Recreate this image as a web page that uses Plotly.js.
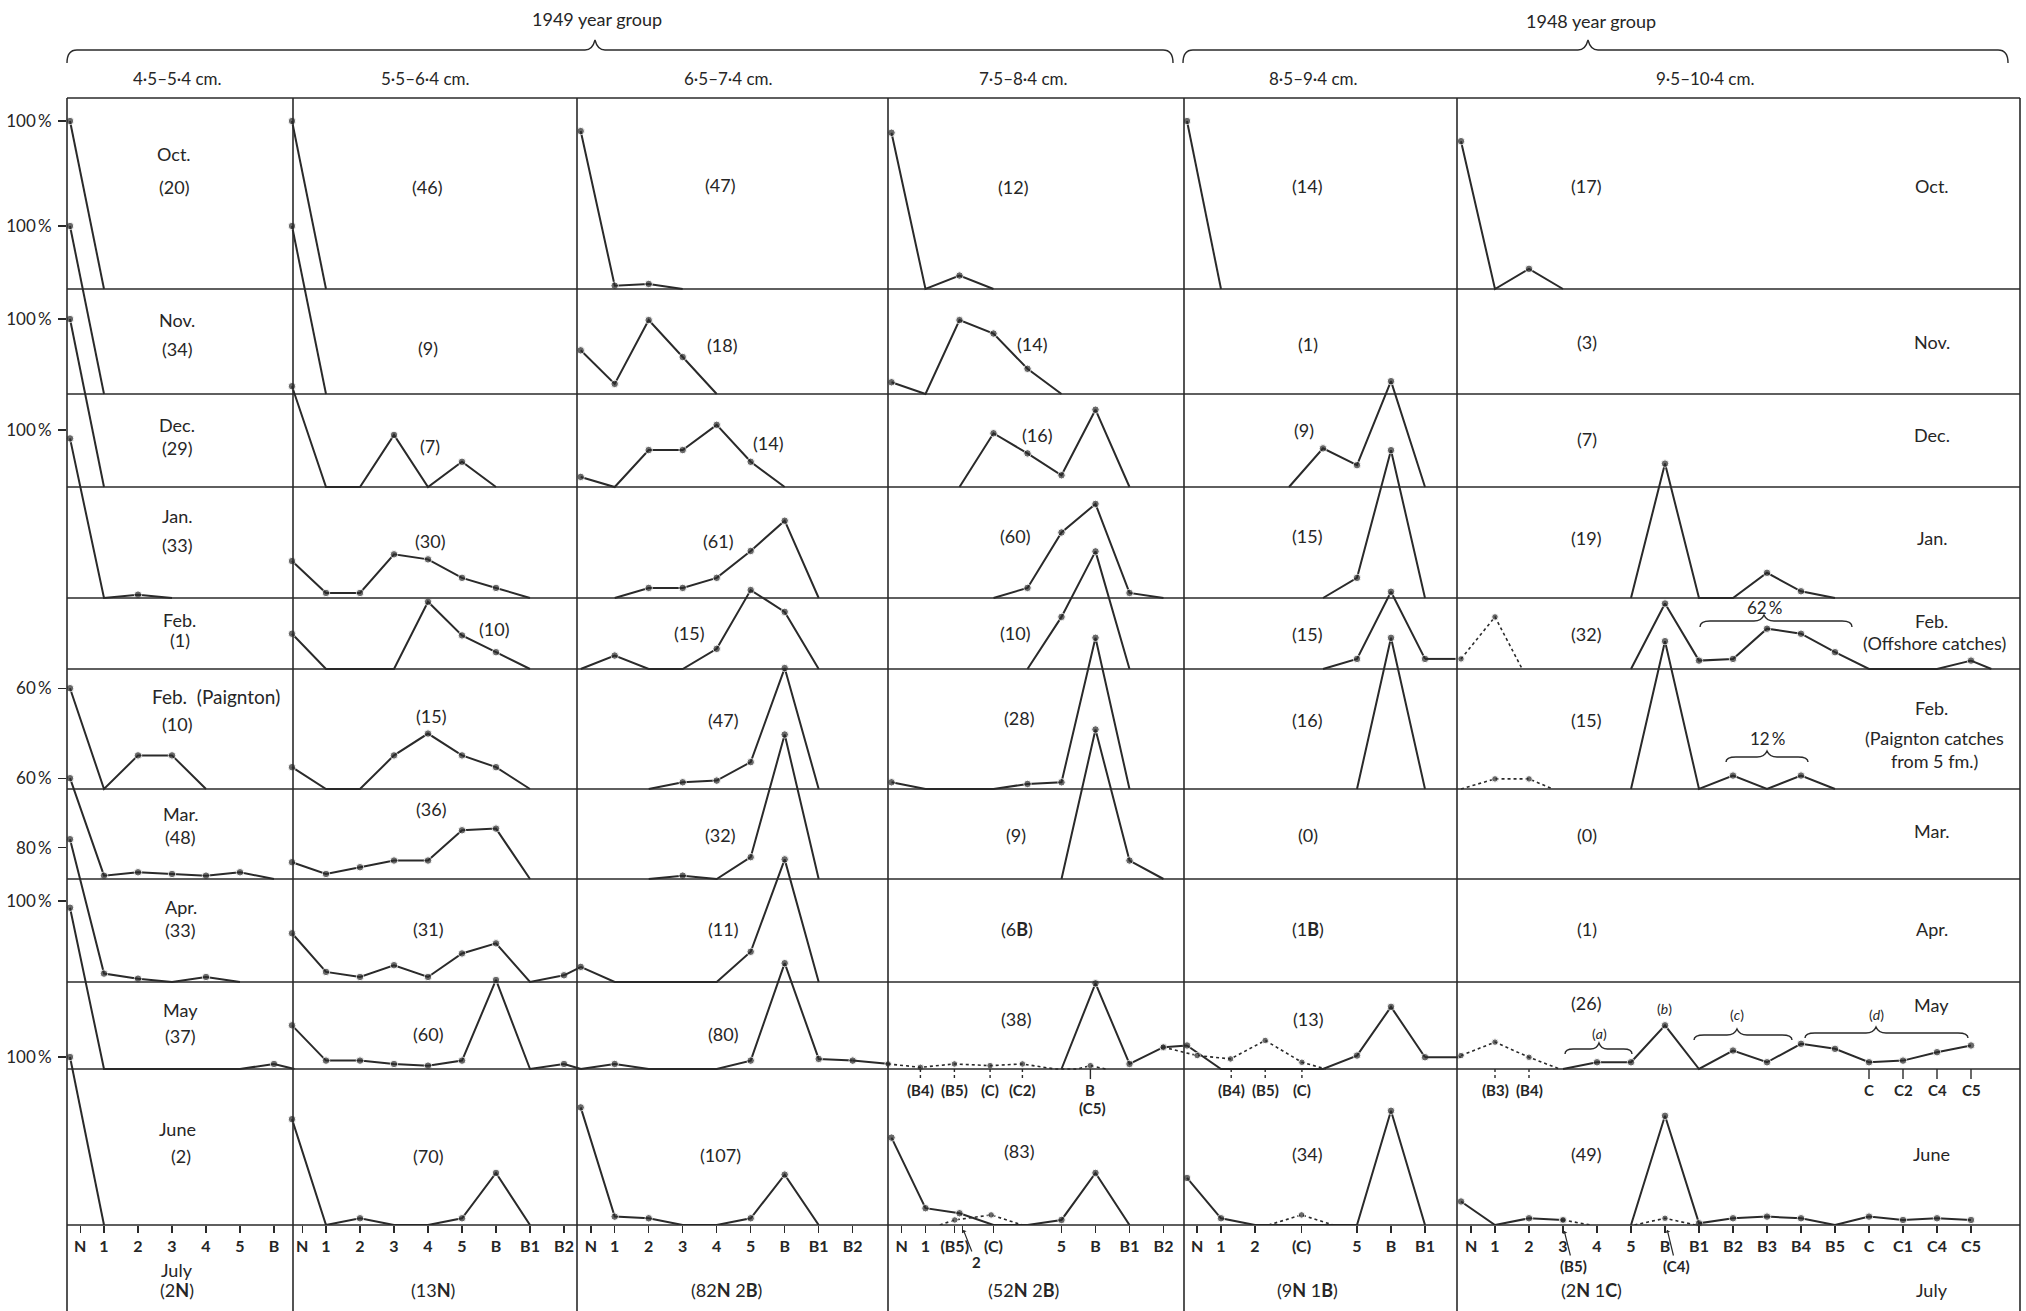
<!DOCTYPE html>
<html><head><meta charset="utf-8">
<script src="https://cdn.plot.ly/plotly-3.0.1.min.js"></script>
<style>html,body{margin:0;padding:0;background:#fff}#chart{width:2026px;height:1311px}</style>
</head><body><div id="chart"></div>
<script>
// ================= DATA =================
const months = ['Oct.','Nov.','Dec.','Jan.','Feb.','Feb.  (Paignton)','Mar.','Apr.','May','June'];
const sizeClasses = ['4·5–5·4 cm.','5·5–6·4 cm.','6·5–7·4 cm.','7·5–8·4 cm.','8·5–9·4 cm.','9·5–10·4 cm.'];
const yearGroups = ['1949 year group','1948 year group'];

// developmental stages (x categories) for each size class
const stages1 = ['N','1','2','3','4','5','B'];
const stages2 = ['N','1','2','3','4','5','B','B1','B2'];
const stages5 = ['N','1','2','3','4','5','B','B1'];
const stages6 = ['N','1','2','3','4','5','B','B1','B2','B3','B4','B5','C','C1','C4','C5'];

// bottom tick labels of columns 4 and 5
const tickText4 = ['N','1','(B5)','','(C)','5','B','B1','B2'];
const tickAt4   = [0.3,1,1.86,2.08,3,5,6,7,8];
const tickText5 = ['N','1','2','(C)','5','B','B1'];
const tickAt5   = [0.3,1,2,3.37,5,6,7];

// % of sample at each stage, rows Oct..June (null = not plotted)
const col1 = [[100,0],[100,0],[100,0],[95,0,2,0],[],[60,0,20,20,0],[60,2,4,3,2,4,0],[85,5,2,0,3,0],[96,0,0,0,0,0,3],[100,0]];
const col2 = [[100,0],[100,0],[60,0,0,31,0,15,0],[22,3,3,26,23,12,6,0],[21,0,0,0,40,20,10,0],[13,0,0,20,33,20,13,0],[10,3,7,11,11,29,30,0],[29,6,3,10,3,17,23,0,4],[26,5,5,3,2,5,53,0,3],[63,0,4,0,0,4,31,0]];
const col3 = [[94,2,3,0],[26,6,44,22,0],[6,0,22,22,37,15,0],[null,0,6,6,12,28,46,0],[0,8,0,0,12,47,34,0],[null,null,0,4,5,16,72,0],[null,null,0,2,0,13,86,0],[9,0,0,0,0,18,73,0],[0,3,0,0,0,5,63,6,5],[70,5,4,0,0,4,30,0]];
const col4 = [[93,0,8,0],[7,0,44,36,15,0],[null,null,0,32,20,7,46,0],[null,null,null,0,6,39,56,3,0],[null,null,null,null,0,31,70,0],[4,0,0,0,3,4,90,0],[null,null,null,null,null,0,89,11,0],[],[null,null,null,null,null,0,51,3,13],[52,10,7,0,0,3,31,0]];
const col5 = [[100,0],[],[null,null,null,0,23,13,63,0],[null,null,null,null,0,12,88,0],[null,null,null,null,0,6,46,6],[null,null,null,null,null,0,90,0],[],[],[14,0,0,0,0,8,37,7],[28,4,0,0,0,0,68,0]];
const col6 = [[88,0,12,0],[],[],[null,null,null,null,null,0,80,0,0,15,4,0],[null,null,null,null,null,0,39,5,6,24,21,10,0,0,0,5],[null,null,null,null,null,0,88,0,8,0,8,0],[],[],[null,null,null,0,4,4,26,0,11,4,15,12,4,5,10,14],[14,0,4,3,null,0,65,1,4,5,4,0,5,3,4,3]];

// solid line continuations between stage positions (col, row, stage position, %)
const tails = [
  {col:1,row:8,x:[6,6.6],y:[3,0]},
  {col:2,row:7,x:[8,8.5],y:[4,9]},
  {col:2,row:8,x:[8,8.5],y:[3,0]},
  {col:3,row:8,x:[8,9.1],y:[5,3]},
  {col:4,row:8,x:[8,8.7],y:[13,14]},
  {col:5,row:4,x:[7,7.9],y:[6,6]},
  {col:5,row:8,x:[7,8.05],y:[7,7]},
  {col:6,row:4,x:[15,15.6],y:[5,0]}
];
// dotted series (bracketed stages)
const dotted = [
  {col:4,row:8,x:[-0.1,0.85,1.85,2.9,3.85,4.8,5.45,5.85,6.3],y:[3,1,3,2,3,0,0,2,0]},
  {col:4,row:9,x:[1.42,1.86,2.93,3.85],y:[0,3,6,0]},
  {col:5,row:8,x:[-0.7,0.3,1.28,2.3,3.38,4.09],y:[13,8,6,17,4,0]},
  {col:5,row:9,x:[2.4,3.37,4.3],y:[0,6,0]},
  {col:6,row:4,x:[0,1,1.8],y:[6,31,0]},
  {col:6,row:5,x:[0,1,2,2.7],y:[0,6,6,0]},
  {col:6,row:8,x:[0,1,2,2.9],y:[8,16,7,0]},
  {col:6,row:9,x:[3,3.8,null,5.1,6,6.9],y:[3,0,null,0,4,0]}
];

// sample sizes
const counts1 = ['(20)','(34)','(29)','(33)','(1)','(10)','(48)','(33)','(37)','(2)'];
const counts2 = ['(46)','(9)','(7)','(30)','(10)','(15)','(36)','(31)','(60)','(70)'];
const counts3 = ['(47)','(18)','(14)','(61)','(15)','(47)','(32)','(11)','(80)','(107)'];
const counts4 = ['(12)','(14)','(16)','(60)','(10)','(28)','(9)','(6<b>B</b>)','(38)','(83)'];
const counts5 = ['(14)','(1)','(9)','(15)','(15)','(16)','(0)','(1<b>B</b>)','(13)','(34)'];
const counts6 = ['(17)','(3)','(7)','(19)','(32)','(15)','(0)','(1)','(26)','(49)'];
const julyCounts = ['(2<b>N</b>)','(13<b>N</b>)','(82<b>N</b> 2<b>B</b>)','(52<b>N</b> 2<b>B</b>)','(9<b>N</b> 1<b>B</b>)','(2<b>N</b> 1<b>C</b>)'];
const rowTick = [100,100,100,100,null,60,60,80,100,100];

// ================= LAYOUT GEOMETRY =================
const F = 2026/1568;
const L=67, R=2020, T=98, Bm=1225, W=R-L, H=Bm-T, P=168;
const rowBase = [289,394,487,598,669,789,879,982,1069,1225];
const colEdge = [67,293,577,888,1184,1457,2020];
const colN = [70,292,580.7,891.5,1187,1461];
const step = 34;
const FONT = 'Lato, "Open Sans", sans-serif';
const TXT = '#262626', LC = '#2a2a2a';
const px = x => (x-L)/W, py = y => (Bm-y)/H;

const cols = [col1,col2,col3,col4,col5,col6];
const stages = [stages1,stages2,stages2,stages2,stages5,stages6];
const xa = c => c===1 ? 'x' : 'x'+c;
const ya = r => r===0 ? 'y' : 'y'+(r+1);

const traces = [];
cols.forEach((col,ci)=>{
  col.forEach((vals,r)=>{
    if(!vals.length) return;
    traces.push({x:vals.map((_,i)=>i), y:vals, xaxis:xa(ci+1), yaxis:ya(r), type:'scatter', mode:'lines+markers',
      line:{color:LC,width:2}, marker:{color:LC,size:vals.map(v=>v>0?7.5:0)}, cliponaxis:false, hoverinfo:'skip', showlegend:false});
  });
});
tails.forEach(t=>traces.push({x:t.x,y:t.y,xaxis:xa(t.col),yaxis:ya(t.row),type:'scatter',mode:'lines',line:{color:LC,width:2},hoverinfo:'skip',showlegend:false}));
dotted.forEach(t=>traces.push({x:t.x,y:t.y,xaxis:xa(t.col),yaxis:ya(t.row),type:'scatter',mode:'lines+markers',connectgaps:false,
  line:{color:LC,width:1.6,dash:'dot'},marker:{color:LC,size:t.y.map(v=>v>0?6.5:0)},cliponaxis:false,hoverinfo:'skip',showlegend:false}));

const layout = {width:2026,height:1311,autosize:false,margin:{l:L,r:2026-R,t:T,b:1311-Bm},
  paper_bgcolor:'#ffffff',plot_bgcolor:'#ffffff',showlegend:false,font:{family:FONT,color:TXT},
  shapes:[],annotations:[]};

for(let c=0;c<6;c++){
  let tv, tt;
  if(c===3){tv=tickAt4; tt=tickText4;}
  else if(c===4){tv=tickAt5; tt=tickText5;}
  else {tt=stages[c]; tv=stages[c].map((_,i)=>i===0?0.3:i);}
  const ax = {domain:[0,1],anchor:'y',range:[(L-colN[c])/step,(R-colN[c])/step],tickmode:'array',tickvals:tv,
    ticktext:tt.map(s=>s?'<b>'+s+'</b>':''),ticks:'outside',ticklen:7,tickwidth:1.4,tickcolor:LC,
    tickfont:{family:FONT,size:16,color:TXT},showgrid:false,zeroline:false,showline:false,fixedrange:true};
  if(c>0) ax.overlaying='x';
  layout[c===0?'xaxis':'xaxis'+(c+1)] = ax;
}
for(let r=0;r<10;r++){
  const v = rowTick[r];
  const ay = {domain:[0,1],anchor:'x',range:[-(Bm-rowBase[r])/P*100,(rowBase[r]-T)/P*100],tickmode:'array',
    tickvals:v==null?[]:[v],ticktext:v==null?[]:[v+'\u2009%'],ticks:v==null?'':'outside',ticklen:8,tickwidth:1.4,tickcolor:LC,
    ticklabelstandoff:3,tickfont:{family:FONT,size:17,color:TXT},showgrid:false,zeroline:false,showline:false,fixedrange:true};
  if(r>0) ay.overlaying='y';
  layout[r===0?'yaxis':'yaxis'+(r+1)] = ay;
}

const line = (x0,y0,x1,y1,w,dash)=>({type:'line',xref:'paper',yref:'paper',x0:px(x0),y0:py(y0),x1:px(x1),y1:py(y1),line:{color:LC,width:w||1.5,dash:dash||'solid'}});
layout.shapes.push(line(L,T,R,T,1.7));
rowBase.forEach(b=>layout.shapes.push(line(L,b,R,b,1.5)));
colEdge.forEach(x=>layout.shapes.push(line(x,T,x,1311,1.6)));

function brace(x0,x1,xm,yL,yE,yT){
  const r = Math.min(10,(x1-x0)/8);
  const pts = [['M',x0,yE],['Q',x0,yL,x0+r,yL],['L',xm-r,yL],['Q',xm-r/4,yL,xm,yT],['Q',xm+r/4,yL,xm+r,yL],['L',x1-r,yL],['Q',x1,yL,x1,yE]];
  const d = pts.map(p=>{const s=[p[0]];for(let i=1;i<p.length;i+=2){s.push(px(p[i]).toFixed(5)+','+py(p[i+1]).toFixed(5));}return s.join(' ');}).join(' ');
  return {type:'path',xref:'paper',yref:'paper',path:d,line:{color:LC,width:1.4}};
}
layout.shapes.push(brace(67,1173,595,50,63,40));
layout.shapes.push(brace(1183,2008,1588,50,63,40));
layout.shapes.push(brace(1700,1852,1764,621,627,615));
layout.shapes.push(brace(1726,1808,1767,757,762,751));
layout.shapes.push(brace(1565,1632,1599,1049,1054,1043));
layout.shapes.push(brace(1694,1792,1737,1035,1040,1029));
layout.shapes.push(brace(1805,1968,1876,1033,1038,1027));

// small tick marks under May baseline
const mayTicks = [[4,[0.85,1.85,2.9,3.85],'dot'],[4,[5.85],'solid'],[5,[1.3,2.3,3.38],'dot'],[6,[1,2],'dot'],[6,[12,13,14,15],'solid']];
mayTicks.forEach(([c,arr,d])=>arr.forEach(x=>layout.shapes.push({type:'line',xref:xa(c),yref:'y9',x0:x,x1:x,y0:0,y1:-6,line:{color:LC,width:1.4,dash:d}})));

const A = (text,x,y,o)=>Object.assign({text,xref:'paper',yref:'paper',x:px(x),y:py(y),showarrow:false,xanchor:'center',yanchor:'middle',
  font:{family:FONT,size:18,color:TXT}},o||{});
const S = (text,xs,ys,o)=>A(text,xs*F,ys*F,o);
const ann = layout.annotations;
const fs = s=>({font:{family:FONT,size:s,color:TXT}});

ann.push(A(yearGroups[0],597,19,fs(18)));
ann.push(A(yearGroups[1],1591,21,fs(18)));
[177,425,728,1023,1313,1705].forEach((x,i)=>ann.push(A(sizeClasses[i],x,79,fs(17))));

const monthPos1 = [[135,119],[137,248],[137,329],[137,399],[139,480],null,[140,630],[140,702],[140,782],[137,874]];
monthPos1.forEach((p,r)=>{ if(p) ann.push(S(months[r],p[0],p[1])); });
ann.push(A(months[5],150,539*F,{xanchor:'left',font:{family:FONT,size:19,color:TXT}}));

const countsAll = [counts1,counts2,counts3,counts4,counts5,counts6];
const countPos = [
 [[135,145],[137,270],[137,347],[137,422],[139,495],[137,560],[140,648],[140,720],[140,802],[140,895]],
 [[331,145],[331,269],[333,345],[333,419],[383,487],[334,554],[334,626],[332,719],[332,800],[332,895]],
 [[558,143],[559,267],[595,343],[556,419],[534,490],[560,557],[558,646],[560,719],[560,800],[558,894]],
 [[784,145],[799,266],[803,337],[786,415],[786,490],[789,556],[786,646],[787,719],[787,789],[789,891]],
 [[1012,144],[1012,266],[1009,333],[1012,415],[1012,491],[1012,557],[1012,646],[1012,719],[1013,789],[1012,893]],
 [[1228,144],[1228,265],[1228,340],[1228,416],[1228,491],[1228,557],[1228,646],[1228,719],[1228,776],[1228,893]]];
countsAll.forEach((arr,c)=>arr.forEach((t,r)=>ann.push(S(t,countPos[c][r][0],countPos[c][r][1]))));

// right-hand month labels
[['Oct.',144],['Nov.',265],['Dec.',337],['Jan.',416],['Feb.',481],['(Offshore catches)',498],['Feb.',548],['(Paignton catches',571],['from 5 fm.)',589],['Mar.',643],['Apr.',719],['May',778],['June',893],['July',998]]
  .forEach(([t,y])=>ann.push(S(t,t.length>6?1497:1495,y)));

// July row
ann.push(S('July',137,983));
[137,335,562,792,1012,1232].forEach((x,i)=>ann.push(S(julyCounts[i],x,998)));

// percentages and bracket letters (col 6)
ann.push(A('62\u2009%',1764,607,fs(17)));
ann.push(A('12\u2009%',1767,738,fs(17)));
[['(<i>a</i>)',1599,1033],['(<i>b</i>)',1664,1008],['(<i>c</i>)',1737,1014],['(<i>d</i>)',1876,1014]].forEach(([t,x,y])=>ann.push(A(t,x,y,fs(14))));

// stage labels under May baseline
const mayLabels = [[4,'(B4)',0.85],[4,'(B5)',1.85],[4,'(C)',2.9],[4,'(C2)',3.85],[4,'B',5.85],[5,'(B4)',1.3],[5,'(B5)',2.3],[5,'(C)',3.38],[6,'(B3)',1],[6,'(B4)',2],[6,'C',12],[6,'C2',13],[6,'C4',14],[6,'C5',15]];
mayLabels.forEach(([c,t,x])=>ann.push({text:'<b>'+t+'</b>',xref:xa(c),yref:'y9',x:x,y:-12.5,showarrow:false,xanchor:'center',yanchor:'middle',font:{family:FONT,size:15,color:TXT}}));
ann.push({text:'<b>(C5)</b>',xref:'x4',yref:'y9',x:5.9,y:-23.5,showarrow:false,xanchor:'center',yanchor:'middle',font:{family:FONT,size:15,color:TXT}});

// arrowed stage notes on the bottom axis
[['<b>2</b>',963,1229,13,33],['<b>(B5)</b>',1564,1230,9,36],['<b>(C4)</b>',1667,1229,9,37]].forEach(([t,x,y,dx,dy])=>ann.push({text:t,xref:'paper',yref:'paper',
  x:px(x),y:py(y),ax:dx,ay:dy,showarrow:true,arrowhead:1,arrowsize:0.7,arrowwidth:1.2,arrowcolor:LC,standoff:1,font:{family:FONT,size:15,color:TXT}}));

Plotly.newPlot('chart',traces,layout,{staticPlot:true,displayModeBar:false});
</script></body></html>
